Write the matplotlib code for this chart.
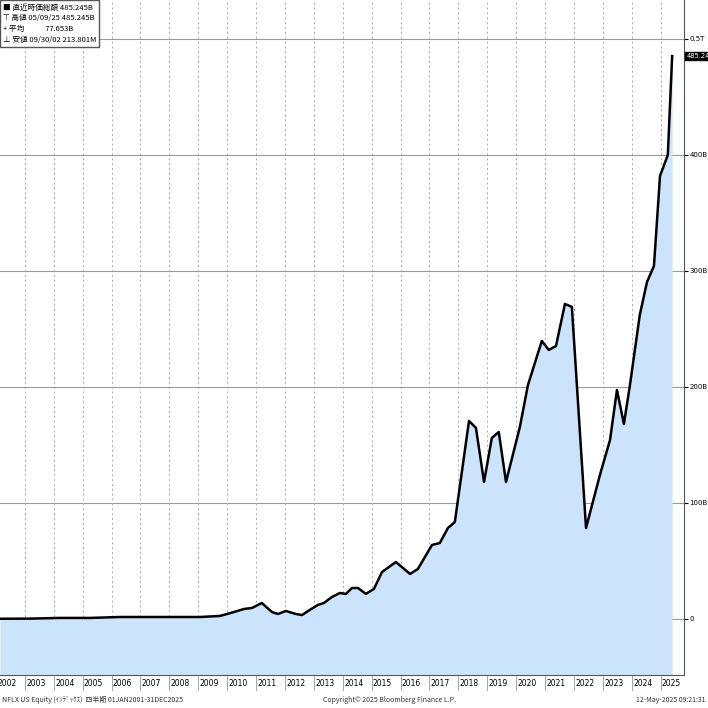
import matplotlib
matplotlib.use("Agg")
import matplotlib.pyplot as plt

plt.rcParams['font.family'] = ['Noto Sans CJK JP', 'DejaVu Sans']
NARROW = ['Liberation Sans Narrow', 'DejaVu Sans']

dates = [2002.14,2003.18,2004.21,2005.25,2006.29,2007.33,2008.37,2009.06,2009.75,2010.24,2010.58,2010.86,
         2011.20,2011.55,2011.76,2012.03,2012.38,2012.59,2012.86,2013.14,2013.35,2013.63,2013.90,2014.11,
         2014.32,2014.53,2014.80,2015.08,2015.36,2015.84,2016.33,2016.60,2017.09,2017.36,2017.64,2017.88,
         2018.37,2018.61,2018.89,2019.16,2019.40,2019.65,2020.13,2020.41,2020.89,2021.13,2021.38,2021.69,
         2021.93,2022.42,2022.90,2023.25,2023.49,2023.73,2023.94,2024.28,2024.53,2024.77,2024.98,2025.25,2025.40]
values = [0.2,0.3,0.9,0.9,1.7,1.7,1.7,1.7,2.6,6.0,8.6,9.5,
          13.8,6.0,4.3,6.9,4.3,3.4,7.8,12.1,13.8,19.0,22.4,21.6,
          26.7,26.7,21.6,25.9,40.5,49.1,38.8,43.1,63.8,65.5,78.4,83.6,
          170.7,164.7,118.1,156.0,161.2,118.1,165.5,201.7,239.7,231.9,235.3,271.6,
          269.0,78.4,124.1,154.3,197.4,168.1,201.7,262.1,290.5,304.3,381.9,400.0,485.245]
years = list(range(2002, 2026))
ytick_vals = [0, 100, 200, 300, 400, 500]
ytick_labels = ["0", "100B", "200B", "300B", "400B", "0.5T"]

fig = plt.figure(figsize=(7.08, 7.08), dpi=100)
ax = fig.add_axes([0.0, 0.0466, 684/708, 0.9534])
ax.set_xlim(2002.14, 2025.81)
ax.set_ylim(-48.3, 533.6)
ax.fill_between(dates, values, -48.3, color="#cce4fb", lw=0)
ax.plot(dates, values, color="black", lw=1.8)

for v in ytick_vals:
    ax.axhline(v, color="#999999", lw=0.8, zorder=0)
for y in years[1:]:
    ax.axvline(y, color="#aaaaaa", lw=0.7, ls=(0, (2, 3)), zorder=0)

ax.yaxis.tick_right()
ax.set_yticks(ytick_vals)
ax.set_yticklabels(ytick_labels, fontsize=5, family=NARROW)
ax.tick_params(axis='y', length=3, pad=1, direction='out')
ax.set_xticks([])
for s in ['top', 'left']:
    ax.spines[s].set_visible(False)
ax.spines['right'].set_color('#555555')
ax.spines['bottom'].set_color('#555555')

for y in years:
    fig.text((y + 0.38 - 2002.14) / (2025.81 - 2002.14) * 684/708, 1 - 683/708, str(y),
             ha='center', va='center', fontsize=5.5, family=NARROW)
for y in years[1:]:
    xf = (y - 2002.14) / (2025.81 - 2002.14) * 684/708
    fig.add_artist(plt.Line2D([xf, xf], [1-676/708, 1-690/708], color='#999999', lw=0.6))

ax.text(1.004, values[-1], "485.245B", transform=ax.get_yaxis_transform(), fontsize=4.8,
        family=NARROW, color='white', va='center', ha='left',
        bbox=dict(boxstyle='square,pad=0.2', fc='black', ec='black'), clip_on=False)

leg = ("■ 直近時価総額 485.245B\n⊤ 高値 05/09/25 485.245B\n+ 平均            77.653B\n⊥ 安値 09/30/02 213.801M")
ax.text(0.004, 0.995, leg, transform=ax.transAxes, fontsize=5.5, va='top', ha='left', linespacing=1.5,
        bbox=dict(boxstyle='square,pad=0.4', fc='white', ec='#555555'))

fig.text(0.003, 1 - 700/708, "NFLX US Equity (ｲﾝﾃﾞｯｸｽ)  四半期 01JAN2001-31DEC2025", fontsize=5, va='center', color='#333333')
fig.text(0.55, 1 - 700/708, "Copyright© 2025 Bloomberg Finance L.P.", fontsize=5, va='center', ha='center', color='#333333')
fig.text(0.997, 1 - 700/708, "12-May-2025 09:21:31", fontsize=5, va='center', ha='right', color='#333333')

fig.savefig("out.png", dpi=100)
